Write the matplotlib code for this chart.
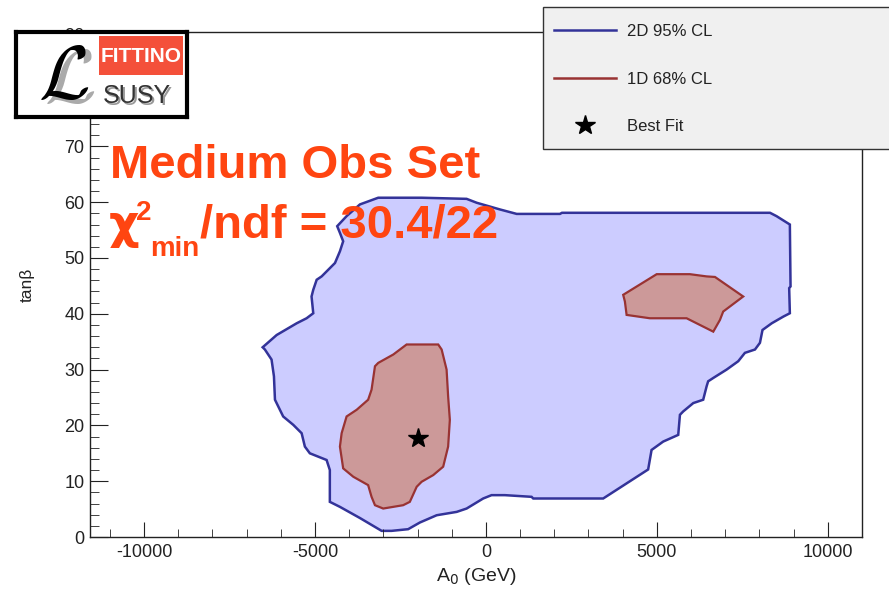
import matplotlib
matplotlib.use("Agg")
import matplotlib.pyplot as plt
from matplotlib.lines import Line2D
from matplotlib.patches import Rectangle
from matplotlib.ticker import MultipleLocator

# 2D 95% CL contour (A0 in GeV, tan beta)
cl95_a0 = [-3150, -1880, -565, -270, 410, 900, 2165, 2225, 8310, 8500, 8890, 8910,
           8870, 8890, 8700, 8360, 8090, 8015, 7870, 7575, 7380, 7040, 6650, 6500,
           6455, 6355, 6065, 5770, 5675, 5625, 5185, 4845, 4745, 3430, 1385, 1335,
           555, 165, -80, -565, -855, -1440, -1930, -2275, -2760, -3050, -3685,
           -4270, -4565, -4565, -4660, -5150, -5295, -5390, -5635, -5930, -6170,
           -6200, -6270, -6465, -6530, -6120, -5535, -5245, -5050, -5100, -5050,
           -4950, -4805, -4415, -4270, -4175, -4270, -4350, -4075, -3685]
cl95_tb = [60.8, 60.8, 60.6, 59.9, 58.7, 57.9, 57.9, 58.1, 58.1, 57.5, 56.0, 44.9,
           44.6, 40.1, 39.5, 38.3, 37.1, 34.8, 33.6, 33.0, 31.5, 30.0, 28.5, 27.9,
           27.0, 24.6, 24.0, 22.5, 21.9, 18.3, 17.1, 15.6, 12.1, 6.9, 6.9, 7.2,
           7.5, 7.5, 6.9, 5.1, 4.5, 3.9, 2.6, 1.4, 1.1, 1.1, 3.4,
           5.4, 6.3, 12.0, 13.8, 15.0, 16.2, 18.6, 20.1, 21.6, 24.6,
           28.8, 31.8, 33.6, 34.0, 36.2, 38.3, 39.2, 40.1, 43.1, 44.3,
           46.1, 46.7, 49.1, 51.2, 53.0, 54.5, 55.7, 57.5, 59.6]

# 1D 68% CL contours
cl68a_a0 = [-2320, -1395, -1295, -1150, -1105, -1055, -1105, -1250, -1540, -1880,
            -2025, -2225, -2420, -3005, -3245, -3345, -3445, -3880, -4175, -4270,
            -4220, -4075, -3780, -3445, -3345, -3245, -3150, -2710]
cl68a_tb = [34.5, 34.5, 33.6, 30.0, 25.2, 21.0, 16.2, 12.6, 11.1, 9.9,
            9.0, 6.3, 5.7, 5.1, 5.7, 7.2, 9.3, 10.8, 12.3, 16.2,
            18.6, 21.6, 22.8, 24.6, 26.4, 30.6, 31.2, 32.7]
cl68b_a0 = [4995, 5965, 6455, 6700, 7525, 6940, 6845, 6650, 5870, 4795, 4455, 4115, 4065, 4015]
cl68b_tb = [47.1, 47.1, 46.7, 46.6, 43.1, 40.4, 38.9, 36.8, 39.2, 39.2, 39.5, 39.8, 42.2, 43.4]

best_fit = (-2000, 17.7)

W, H = 889, 592
plt.rcParams['font.family'] = ['Liberation Sans', 'DejaVu Sans']
plt.rcParams['axes.unicode_minus'] = False

fig = plt.figure(figsize=(W / 100, H / 100), dpi=100)
fig.patch.set_facecolor('white')


def fpx(x, y):
    return x / W, 1 - y / H


ax = fig.add_axes([90 / W, 1 - 537 / H, 772 / W, 505 / H])
ax.fill(cl95_a0, cl95_tb, facecolor='#ccccff', edgecolor='#333399', lw=1.8)
ax.fill(cl68a_a0, cl68a_tb, facecolor='#cc9999', edgecolor='#993333', lw=1.6)
ax.fill(cl68b_a0, cl68b_tb, facecolor='#cc9999', edgecolor='#993333', lw=1.6)
ax.plot(*best_fit, marker='*', ms=15, color='black', ls='none')

ax.set_xlim(-11580, 11000)
ax.set_ylim(0, 90.5)
ax.xaxis.set_major_locator(MultipleLocator(5000))
ax.xaxis.set_minor_locator(MultipleLocator(1000))
ax.yaxis.set_major_locator(MultipleLocator(10))
ax.yaxis.set_minor_locator(MultipleLocator(2))
ax.tick_params(axis='both', which='both', direction='in', top=False, right=False,
               labelsize=13, colors='#222222')
ax.tick_params(axis='x', which='major', length=11, pad=5)
ax.tick_params(axis='x', which='minor', length=5.5)
ax.tick_params(axis='y', which='major', length=13, pad=4)
ax.tick_params(axis='y', which='minor', length=6.5)
for s in ax.spines.values():
    s.set_linewidth(1.0)
    s.set_color('#222222')

ax.set_xlabel('A$_{0}$ (GeV)', fontsize=14, color='#222222')
ax.xaxis.set_label_coords(0.5, -0.058)
ax.set_ylabel('tan\u03b2', fontsize=12.5, color='#222222')
ax.yaxis.set_label_coords(-0.072, 0.5)

# headline text
red = '#ff4511'
fig.text(*fpx(110, 178), 'Medium Obs Set', fontsize=34, fontweight='bold',
         color=red, ha='left', va='baseline', zorder=6)
fig.text(*fpx(109, 238), '\u03c7', fontsize=34, fontweight='bold', family='DejaVu Sans',
         color=red, ha='left', va='baseline', zorder=6)
fig.text(*fpx(136, 220), '2', fontsize=20, fontweight='bold',
         color=red, ha='left', va='baseline', zorder=6)
fig.text(*fpx(150, 256), 'min', fontsize=20, fontweight='bold',
         color=red, ha='left', va='baseline', zorder=6)
fig.text(*fpx(200, 238), '/ndf = 30.4/22', fontsize=34, fontweight='bold',
         color=red, ha='left', va='baseline', zorder=6)

# legend
fig.add_artist(Rectangle(fpx(543, 149), (895 - 543) / W, (149 - 6.7) / H,
                         transform=fig.transFigure, facecolor='#f0f0f0',
                         edgecolor='#333333', lw=1.0, zorder=4))
handles = [Line2D([], [], color='#333399', lw=1.8),
           Line2D([], [], color='#993333', lw=1.8),
           Line2D([], [], color='black', marker='*', ms=15, ls='none')]
fig.legend(handles, ['2D 95% CL', '1D 68% CL', 'Best Fit'],
           loc='upper left', bbox_to_anchor=fpx(554, 24), frameon=False,
           fontsize=12, handlelength=3.7, handletextpad=0.7, labelspacing=1.95,
           borderpad=0, borderaxespad=0, labelcolor='#222222').set_zorder(5)

# logo
lg = fig.add_axes([16 / W, 1 - 117.3 / H, (186.7 - 16) / W, (117.3 - 31.7) / H], zorder=7)
lg.set_xlim(16, 186.7)
lg.set_ylim(117.3, 31.7)
lg.set_xticks([])
lg.set_yticks([])
lg.set_facecolor('white')
for s in lg.spines.values():
    s.set_linewidth(3)
    s.set_color('black')
lg.add_patch(Rectangle((99, 35.7), 84.3, 39.3, facecolor='#f4503a', edgecolor='none'))
lg.text(141, 56, 'FITTINO', fontsize=15, fontweight='bold', color='white',
        ha='center', va='center', family=['Liberation Sans Narrow', 'Liberation Sans'])
lg.text(139, 98, 'SUSY', fontsize=18, color='#999999', ha='center', va='center')
lg.text(137, 96, 'SUSY', fontsize=18, color='#333333', ha='center', va='center')
lg.text(70, 82, r'$\mathcal{L}$', fontsize=54, color='#aaaaaa', ha='center',
        va='center', math_fontfamily='cm', clip_on=True)
lg.text(64, 79, r'$\mathcal{L}$', fontsize=54, color='black', ha='center',
        va='center', math_fontfamily='cm', clip_on=True)

fig.savefig('out.png', dpi=100)
